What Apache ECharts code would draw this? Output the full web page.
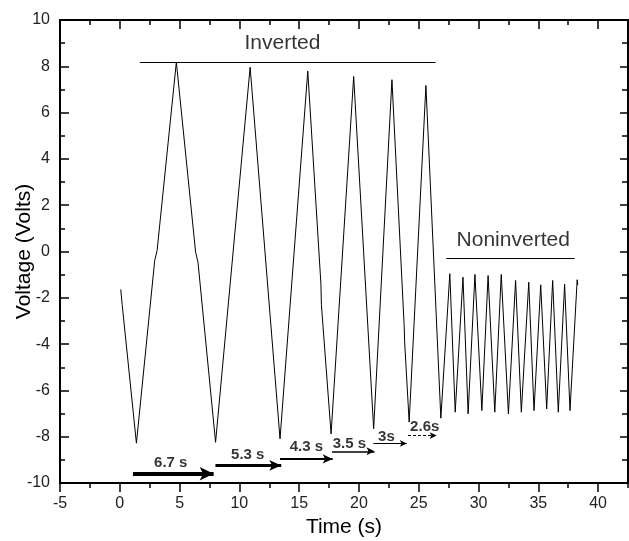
<!DOCTYPE html>
<html>
<head>
<meta charset="utf-8">
<script src="https://cdn.jsdelivr.net/npm/echarts@6/dist/echarts.min.js"></script>
<style>
html, body { margin: 0; padding: 0; background: #fff; }
#chart { width: 629px; height: 541px; }
</style>
</head>
<body>
<div id="chart"></div>
<script>
// 波形：时间 (s) 与电压 (V)，从曲线上读取的拐点
const timeValues = [
    0.08, 0.2, 1.39, 2.92, 3.12, 4.73, 6.34, 6.54, 8.01, 10.9, 13.4, 15.72,
    16.82, 16.86, 17.67, 19.56, 21.23, 22.76, 23.79, 23.82, 24.2, 25.6, 26.85,
    27.6, 28.05, 28.7, 29.13, 29.7, 30.28, 30.8, 31.36, 31.9, 32.5, 33.1, 33.58,
    34.2, 34.64, 35.2, 35.7, 36.2, 36.67, 37.2, 37.65, 38.25, 38.3
];
const voltageValues = [
    -1.64, -2.3, -8.28, -0.39, 0.04, 8.18, -0.03, -0.46, -8.24, 7.96, -8.09, 7.79,
    -1.4, -2.3, -7.88, 7.56, -7.66, 7.42, -3.3, -3.9, -7.37, 7.17, -7.2,
    -0.96, -6.94, -1.11, -7.01, -0.99, -6.87, -1.04, -6.94, -0.99, -7.01, -1.25, -6.94,
    -1.33, -6.87, -1.44, -6.8, -1.25, -6.94, -1.41, -6.87, -1.22, -1.45
];

// 周期箭头：起点、终点、高度（数据坐标）
const arrowLabels = ['6.7 s', '5.3 s', '4.3 s', '3.5 s', '3s', '2.6s'];
const arrowStart = [1.1, 8.0, 13.4, 17.75, 21.2, 24.1];
const arrowEnd = [7.85, 13.5, 17.8, 21.3, 24.0, 26.5];
const arrowLevel = [-9.6, -9.24, -8.96, -8.63, -8.29, -7.95];
const arrowLabelX = [4.26, 10.7, 15.6, 19.2, 22.3, 25.5];
const arrowLabelY = [-9.14, -8.8, -8.45, -8.3, -7.99, -7.59];

// 区域标注
const regionNames = ['Inverted', 'Noninverted'];
const regionStart = [1.67, 27.3];
const regionEnd = [26.4, 38.05];
const regionLevel = [8.18, -0.29];
const regionLabelX = [13.6, 32.9];
const regionLabelY = [8.98, 0.5];

// 坐标轴
const xMin = -5, xMax = 42.5, xStep = 5, xMinorStep = 2.5;
const yMin = -10, yMax = 10, yStep = 2;

const FONT = 'Liberation Sans, Arial, sans-serif';

// 箭头样式（从粗到细）
const arrowWidths = [4, 3, 2, 1.5, 1, 1];
const arrowHeads = [[10, 14], [8, 12], [7, 10], [6, 8], [5, 7], [5, 7]];

const chart = echarts.init(document.getElementById('chart'));

const waveData = timeValues.map((t, i) => [t, voltageValues[i]]);

const markLines = [];
arrowLabels.forEach((name, i) => {
    markLines.push([
        {
            coord: [arrowStart[i], arrowLevel[i]],
            symbol: 'none',
            lineStyle: {
                color: '#000',
                width: arrowWidths[i],
                type: i === arrowLabels.length - 1 ? [3, 2] : 'solid'
            }
        },
        {
            coord: [arrowEnd[i], arrowLevel[i]],
            symbol: 'arrow',
            symbolSize: arrowHeads[i]
        }
    ]);
});
regionNames.forEach((name, i) => {
    markLines.push([
        { coord: [regionStart[i], regionLevel[i]], symbol: 'none', lineStyle: { color: '#000', width: 1, type: 'solid' } },
        { coord: [regionEnd[i], regionLevel[i]], symbol: 'none' }
    ]);
});

function bottomAxis(major) {
    return {
        type: 'value',
        position: 'bottom',
        min: xMin,
        max: xMax,
        interval: major ? xStep : xMinorStep,
        axisLine: { show: major, onZero: false, lineStyle: { color: '#000', width: 2 } },
        axisTick: { inside: false, length: major ? 9 : 5, lineStyle: { color: '#000', width: 1.5 } },
        axisLabel: {
            show: major,
            showMaxLabel: false,
            margin: 13,
            color: '#222',
            fontFamily: FONT,
            fontSize: 16
        },
        splitLine: { show: false },
        name: major ? 'Time (s)' : '',
        nameLocation: 'middle',
        nameGap: 34,
        nameMoveOverlap: false,
        nameTextStyle: { color: '#000', fontFamily: FONT, fontSize: 21 }
    };
}

function topAxis(major) {
    return {
        type: 'value',
        position: 'top',
        min: xMin,
        max: xMax,
        interval: major ? xStep : xMinorStep,
        axisLine: { show: major, onZero: false, lineStyle: { color: '#000', width: 2 } },
        axisTick: { inside: true, length: major ? 9 : 5, lineStyle: { color: '#000', width: 1.5 } },
        axisLabel: { show: false },
        splitLine: { show: false }
    };
}

const option = {
    backgroundColor: '#fff',
    animation: false,
    grid: { left: 60, right: 1, top: 20, bottom: 58, containLabel: false, outerBoundsMode: 'none' },
    xAxis: [bottomAxis(true), bottomAxis(false), topAxis(true), topAxis(false)],
    yAxis: [
        {
            type: 'value',
            position: 'left',
            min: yMin,
            max: yMax,
            interval: yStep,
            axisLine: { show: true, onZero: false, lineStyle: { color: '#000', width: 2 } },
            axisTick: { inside: true, length: 9, lineStyle: { color: '#000', width: 1.5 } },
            minorTick: { show: true, splitNumber: 2, length: 5, lineStyle: { color: '#000', width: 1.5 } },
            axisLabel: { margin: 10, color: '#222', fontFamily: FONT, fontSize: 16 },
            splitLine: { show: false },
            name: 'Voltage (Volts)',
            nameLocation: 'middle',
            nameGap: 25,
            nameMoveOverlap: false,
            nameTextStyle: { color: '#000', fontFamily: FONT, fontSize: 21 }
        },
        {
            type: 'value',
            position: 'right',
            min: yMin,
            max: yMax,
            interval: yStep,
            axisLine: { show: true, onZero: false, lineStyle: { color: '#000', width: 2 } },
            axisTick: { inside: true, length: 8, lineStyle: { color: '#000', width: 1.5 } },
            minorTick: { show: true, splitNumber: 2, length: 6, lineStyle: { color: '#000', width: 1.5 } },
            axisLabel: { show: false },
            splitLine: { show: false }
        }
    ],
    series: [
        {
            name: 'Voltage',
            type: 'line',
            xAxisIndex: 0,
            yAxisIndex: 0,
            data: waveData,
            showSymbol: false,
            symbol: 'none',
            lineStyle: { color: '#000', width: 1 },
            silent: true,
            markLine: {
                silent: true,
                symbol: ['none', 'arrow'],
                label: { show: false },
                emphasis: { disabled: true },
                data: markLines
            }
        },
        {
            name: 'arrowText',
            type: 'scatter',
            xAxisIndex: 0,
            yAxisIndex: 0,
            symbolSize: 0,
            silent: true,
            data: arrowLabels.map((name, i) => ({ name: name, value: [arrowLabelX[i], arrowLabelY[i]] })),
            label: {
                show: true,
                position: 'inside',
                formatter: p => p.name,
                color: '#000',
                fontFamily: FONT,
                fontWeight: 'bold',
                fontSize: 15
            }
        },
        {
            name: 'regionText',
            type: 'scatter',
            xAxisIndex: 0,
            yAxisIndex: 0,
            symbolSize: 0,
            silent: true,
            data: regionNames.map((name, i) => ({ name: name, value: [regionLabelX[i], regionLabelY[i]] })),
            label: {
                show: true,
                position: 'inside',
                formatter: p => p.name,
                color: '#000',
                fontFamily: FONT,
                fontSize: 21
            }
        }
    ]
};

chart.setOption(option);
</script>
</body>
</html>
